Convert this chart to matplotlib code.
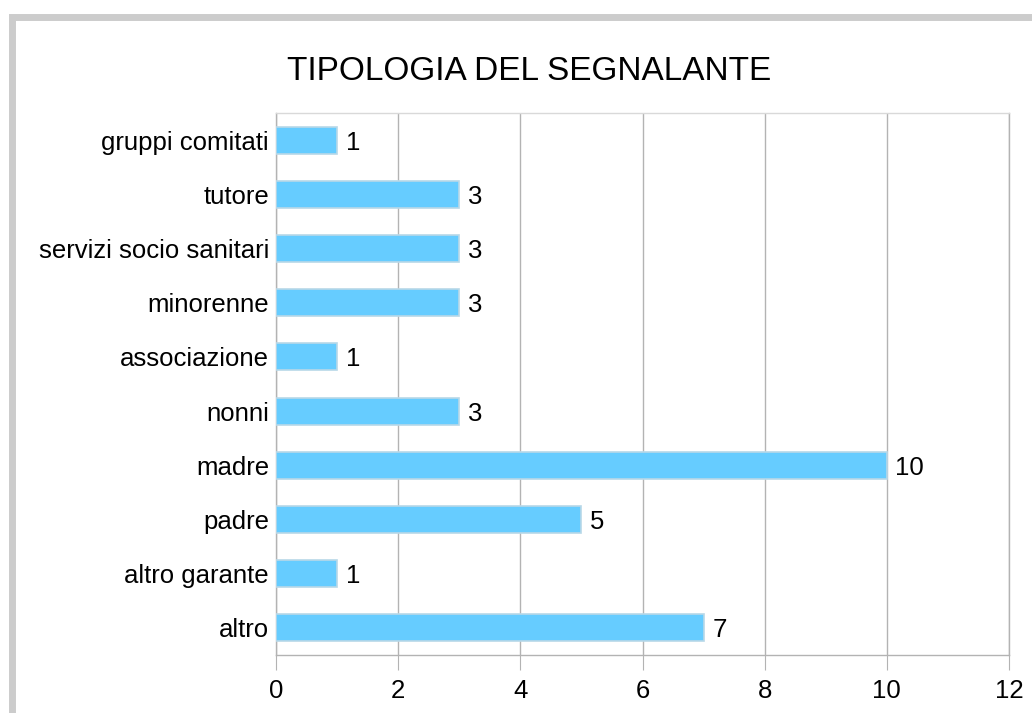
import matplotlib.pyplot as plt
from matplotlib.patches import Rectangle

plt.rcParams['font.family'] = ['Liberation Sans', 'DejaVu Sans']

categories = ['altro', 'altro garante', 'padre', 'madre', 'nonni',
              'associazione', 'minorenne', 'servizi socio sanitari',
              'tutore', 'gruppi comitati']
values = [7, 1, 5, 10, 3, 1, 3, 3, 3, 1]
x_ticks = [0, 2, 4, 6, 8, 10, 12]

fig = plt.figure(figsize=(10.32, 7.13), dpi=100)
ax = fig.add_axes([276 / 1032, 1 - 655 / 713, (1009 - 276) / 1032, (655 - 113) / 713])

# grey frame around the chart (only left and top visible)
fig.patches.append(Rectangle((11.5 / 1032, -0.1), 1.2, 1 - 16.5 / 713 + 0.1,
                             transform=fig.transFigure, fill=False,
                             edgecolor='#cccccc', linewidth=5.0))

y = range(len(categories))
bars = ax.barh(y, values, height=0.5, color='#66ccff', edgecolor='#b8d8e8',
               linewidth=1.2, zorder=3)
for b, v in zip(bars, values):
    ax.text(v + 0.14, b.get_y() + b.get_height() / 2, str(v),
            va='center_baseline', ha='left', fontsize=18.5, color='black')

ax.set_ylim(-0.5, len(categories) - 0.5)
ax.set_xlim(0, 12)
ax.set_xticks(x_ticks)
ax.set_yticks(list(y))
ax.set_yticklabels(categories, va='center_baseline')
ax.tick_params(axis='x', length=11, color='#b3b3b3', labelsize=18.5, pad=6)
ax.tick_params(axis='y', length=0, labelsize=18.5, pad=5)
ax.grid(axis='x', color='#b3b3b3', linewidth=1, zorder=0)
for s in ax.spines.values():
    s.set_color('#b3b3b3')
    s.set_linewidth(1)
ax.spines['top'].set_color('#d9d9d9')

fig.text(0.5125, 1 - 72 / 713, 'TIPOLOGIA DEL SEGNALANTE', ha='center',
         va='center', fontsize=24)

fig.savefig('out.png', dpi=100)
